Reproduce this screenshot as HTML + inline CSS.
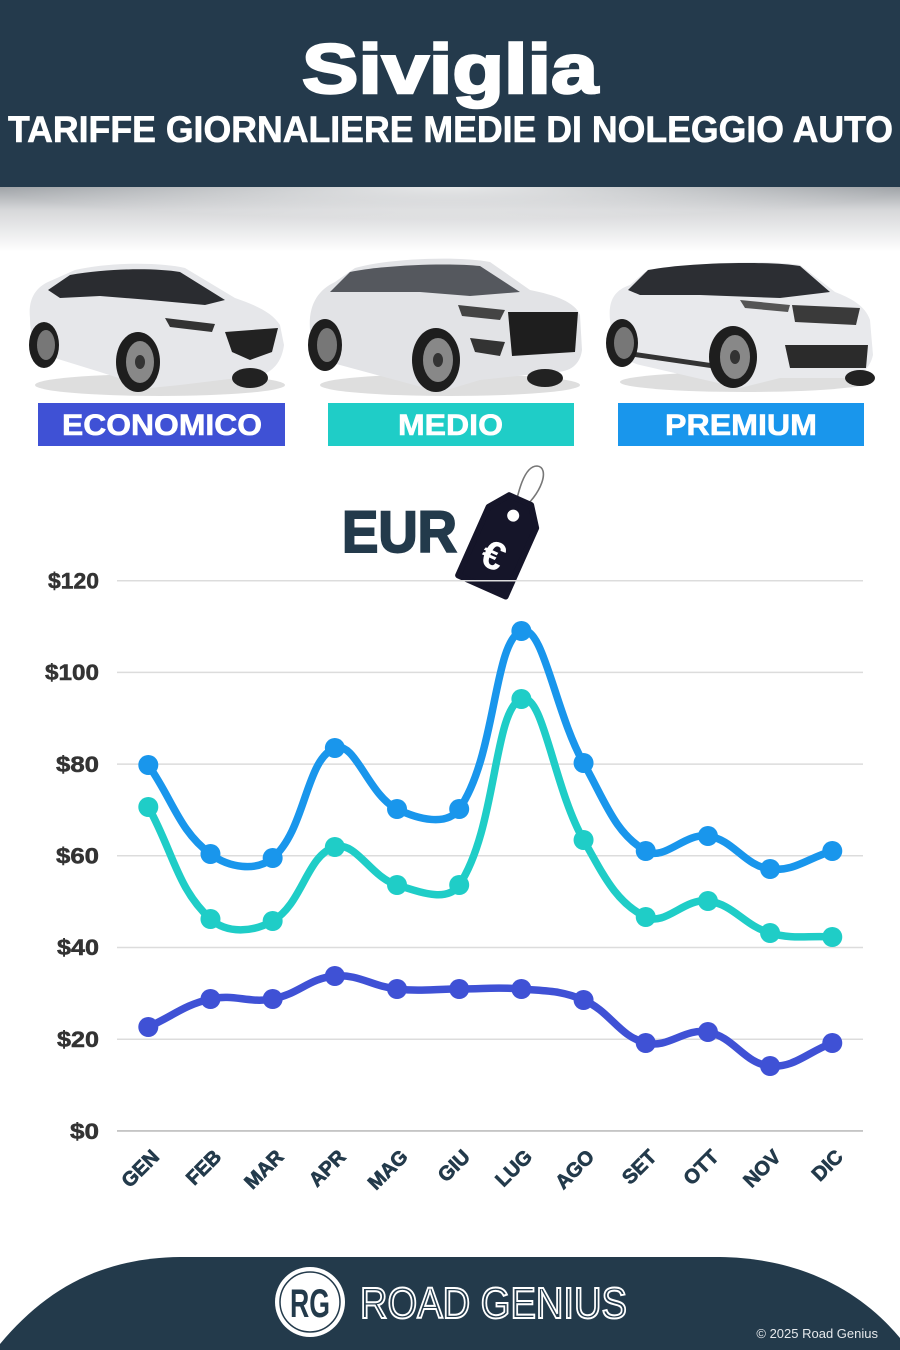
<!DOCTYPE html>
<html>
<head>
<meta charset="utf-8">
<style>
html,body{margin:0;padding:0;background:#fff;}
body{width:900px;height:1350px;overflow:hidden;}
svg{display:block;}
text{font-family:"Liberation Sans",Arial,sans-serif;}
</style>
</head>
<body>
<svg id="s" width="900" height="1350" viewBox="0 0 900 1350" xmlns="http://www.w3.org/2000/svg">
<defs>
<linearGradient id="shd" x1="0" y1="0" x2="0" y2="1">
<stop offset="0" stop-color="#9fa3a7"/>
<stop offset="0.35" stop-color="#d6d7d9"/>
<stop offset="1" stop-color="#ffffff"/>
</linearGradient>
<radialGradient id="shc" cx="0.5" cy="0" r="0.5" fx="0.5" fy="0">
<stop offset="0" stop-color="#fff" stop-opacity="0.75"/>
<stop offset="1" stop-color="#fff" stop-opacity="0"/>
</radialGradient>
</defs>
<rect x="0" y="0" width="900" height="1350" fill="#fff"/>
<!-- header -->
<rect x="0" y="187" width="900" height="65" fill="url(#shd)"/>
<rect x="0" y="187" width="900" height="65" fill="url(#shc)"/>
<rect x="0" y="0" width="900" height="187" fill="#243a4c"/>
<text x="302" y="93" font-size="70" font-weight="bold" fill="#fff" stroke="#fff" stroke-width="2.5" textLength="296" lengthAdjust="spacingAndGlyphs">Siviglia</text>
<text x="8" y="142" font-size="37" font-weight="bold" fill="#fff" stroke="#fff" stroke-width="0.6" textLength="885" lengthAdjust="spacingAndGlyphs">TARIFFE GIORNALIERE MEDIE DI NOLEGGIO AUTO</text>

<!-- car 1 -->
<g>
<ellipse cx="160" cy="385" rx="125" ry="11" fill="#bdbdbd" opacity="0.5"/>
<path d="M30,318 C28,300 35,288 48,282 L75,270 C110,262 160,262 185,268 L235,298 C255,305 272,312 280,325 L284,345 C282,360 275,370 262,375 L180,385 L150,388 L100,372 L45,355 C35,350 30,335 30,318 Z" fill="#e6e7ea"/>
<path d="M48,290 L70,275 C110,268 155,268 180,272 L225,300 L205,305 L150,300 L100,296 L60,298 Z" fill="#2a2c30"/>
<path d="M225,332 L278,328 L272,352 L250,360 L232,352 Z" fill="#222"/>
<path d="M165,318 L215,324 L212,332 L170,327 Z" fill="#333"/>
<ellipse cx="250" cy="378" rx="18" ry="10" fill="#222"/>
<ellipse cx="44" cy="345" rx="15" ry="23" fill="#1e1e1e"/>
<ellipse cx="46" cy="345" rx="9" ry="15" fill="#777"/>
<ellipse cx="138" cy="362" rx="22" ry="30" fill="#1e1e1e"/>
<ellipse cx="140" cy="362" rx="14" ry="21" fill="#888"/>
<ellipse cx="140" cy="362" rx="5" ry="7" fill="#333"/>
</g>
<!-- car 2 -->
<g>
<ellipse cx="450" cy="385" rx="130" ry="11" fill="#bdbdbd" opacity="0.5"/>
<path d="M310,330 C308,305 318,290 335,282 L355,268 C390,258 460,256 490,262 L530,290 C555,295 575,302 580,315 L582,350 C580,365 570,372 555,372 L480,380 L440,392 L340,365 C320,360 312,348 310,330 Z" fill="#e2e3e6"/>
<path d="M330,292 L350,272 C390,264 455,263 480,266 L520,292 L470,296 L420,292 L360,292 Z" fill="#55585e"/>
<path d="M508,312 L578,312 L575,352 L512,356 Z" fill="#1e1e1e"/>
<path d="M458,305 L505,310 L500,320 L462,316 Z" fill="#444"/>
<path d="M470,338 L505,342 L500,356 L475,352 Z" fill="#333"/>
<ellipse cx="545" cy="378" rx="18" ry="9" fill="#222"/>
<ellipse cx="325" cy="345" rx="17" ry="26" fill="#1e1e1e"/>
<ellipse cx="327" cy="345" rx="10" ry="17" fill="#777"/>
<ellipse cx="436" cy="360" rx="24" ry="32" fill="#1e1e1e"/>
<ellipse cx="438" cy="360" rx="15" ry="22" fill="#888"/>
<ellipse cx="438" cy="360" rx="5" ry="7" fill="#333"/>
</g>
<!-- car 3 -->
<g>
<ellipse cx="745" cy="382" rx="125" ry="10" fill="#bdbdbd" opacity="0.5"/>
<path d="M610,320 C608,300 615,290 630,285 L645,272 C690,262 770,260 800,265 L835,292 C850,298 865,305 870,320 L873,355 C870,368 862,375 850,378 L780,378 L740,388 L640,365 C620,360 612,345 610,320 Z" fill="#e8e9ec"/>
<path d="M628,290 L648,270 C690,262 770,261 800,266 L830,292 L780,298 L700,295 L640,295 Z" fill="#2c2e33"/>
<path d="M635,352 L745,368 L745,373 L635,357 Z" fill="#333"/>
<path d="M792,305 L860,308 L856,325 L795,322 Z" fill="#3a3a3a"/>
<path d="M740,300 L790,305 L788,312 L745,308 Z" fill="#555"/>
<path d="M785,345 L868,345 L866,368 L790,368 Z" fill="#2b2b2b"/>
<ellipse cx="860" cy="378" rx="15" ry="8" fill="#222"/>
<ellipse cx="622" cy="343" rx="16" ry="24" fill="#1e1e1e"/>
<ellipse cx="624" cy="343" rx="10" ry="16" fill="#777"/>
<ellipse cx="733" cy="357" rx="24" ry="31" fill="#1e1e1e"/>
<ellipse cx="735" cy="357" rx="15" ry="22" fill="#888"/>
<ellipse cx="735" cy="357" rx="5" ry="7" fill="#333"/>
</g>

<!-- category labels -->
<rect x="38" y="403" width="247" height="43" fill="#3f51d5"/>
<text x="62" y="435" font-size="30" font-weight="bold" fill="#fff" stroke="#fff" stroke-width="0.6" textLength="200" lengthAdjust="spacingAndGlyphs">ECONOMICO</text>
<rect x="328" y="403" width="246" height="43" fill="#1fcdc7"/>
<text x="398" y="435" font-size="30" font-weight="bold" fill="#fff" stroke="#fff" stroke-width="0.6" textLength="105" lengthAdjust="spacingAndGlyphs">MEDIO</text>
<rect x="618" y="403" width="246" height="43" fill="#1996ec"/>
<text x="665" y="435" font-size="30" font-weight="bold" fill="#fff" stroke="#fff" stroke-width="0.6" textLength="152" lengthAdjust="spacingAndGlyphs">PREMIUM</text>

<!-- EUR + tag -->
<text x="342" y="552" font-size="58" font-weight="bold" fill="#233a4b" stroke="#233a4b" stroke-width="2" textLength="115" lengthAdjust="spacingAndGlyphs">EUR</text>
<path d="M513,516 C518,492 524,466 537,466 C550,467 543,494 518,513" fill="none" stroke="#777" stroke-width="1.6"/>
<g transform="translate(501,543) rotate(24)">
<path d="M-26,-28 L-12,-47 L12,-47 L26,-28 L26,47 L-26,47 Z" fill="#151529" stroke="#151529" stroke-width="6" stroke-linejoin="round"/>
<circle cx="0" cy="-30" r="6" fill="#fff"/>
<text x="-2" y="28" font-size="40" font-weight="bold" fill="#fff" text-anchor="middle">€</text>
</g>

<!-- grid -->
<g stroke="#dcdcdc" stroke-width="1.5">
<line x1="117" y1="580.7" x2="863" y2="580.7"/>
<line x1="117" y1="672.4" x2="863" y2="672.4"/>
<line x1="117" y1="764.1" x2="863" y2="764.1"/>
<line x1="117" y1="855.8" x2="863" y2="855.8"/>
<line x1="117" y1="947.5" x2="863" y2="947.5"/>
<line x1="117" y1="1039.2" x2="863" y2="1039.2"/>
</g>
<line x1="117" y1="1130.9" x2="863" y2="1130.9" stroke="#bdbdbd" stroke-width="1.6"/>
<g font-size="22" font-weight="bold" fill="#333" stroke="#333" stroke-width="0.5" text-anchor="end">
<text x="99" y="588.5" textLength="51" lengthAdjust="spacingAndGlyphs">$120</text>
<text x="99" y="680" textLength="54" lengthAdjust="spacingAndGlyphs">$100</text>
<text x="99" y="772" textLength="43" lengthAdjust="spacingAndGlyphs">$80</text>
<text x="99" y="863.5" textLength="43" lengthAdjust="spacingAndGlyphs">$60</text>
<text x="99" y="955" textLength="42" lengthAdjust="spacingAndGlyphs">$40</text>
<text x="99" y="1047" textLength="42" lengthAdjust="spacingAndGlyphs">$20</text>
<text x="99" y="1139" textLength="29" lengthAdjust="spacingAndGlyphs">$0</text>
</g>
<g id="xl" font-size="20" font-weight="bold" fill="#233a4b" stroke="#233a4b" stroke-width="0.7" text-anchor="end"></g>
<g id="series"></g>

<!-- footer -->
<path d="M0,1350 L0,1344 C45,1290 100,1258 180,1257 L720,1257 C800,1258 860,1290 900,1338 L900,1350 Z" fill="#233a4b"/>
<circle cx="310" cy="1302" r="35" fill="#fff"/>
<circle cx="310" cy="1302" r="30" fill="none" stroke="#233a4b" stroke-width="1.5"/>
<text x="310" y="1317" font-size="40" font-weight="bold" fill="#233a4b" text-anchor="middle" textLength="40" lengthAdjust="spacingAndGlyphs">RG</text>
<text x="360" y="1318" font-size="44" fill="none" stroke="#fff" stroke-width="2" textLength="267" lengthAdjust="spacingAndGlyphs">ROAD GENIUS</text>
<text x="878" y="1338" font-size="13" fill="#e6e9ec" text-anchor="end">© 2025 Road Genius</text>
</svg>
<script>
(function(){
var NS="http://www.w3.org/2000/svg";
function X(i){return 148.3+i*62.18;}
var months=["GEN","FEB","MAR","APR","MAG","GIU","LUG","AGO","SET","OTT","NOV","DIC"];
var xl=document.getElementById("xl");
months.forEach(function(m,i){
 var t=document.createElementNS(NS,"text");
 var x=X(i)+12,y=1158;
 t.setAttribute("x",x);t.setAttribute("y",y);
 t.setAttribute("transform","rotate(-45 "+x+" "+y+")");
 t.textContent=m;xl.appendChild(t);
});
var series=[
 {c:"#3f51d5",y:[1027,999,999,976,989,989,989,1000,1043,1032,1066,1043]},
 {c:"#1fcdc7",y:[807,919,921,847,885,885,699,840,917,901,933,937]},
 {c:"#1996ec",y:[765,854,858,748,809,809,631,763,851,836,869,851]}
];
var g=document.getElementById("series");
var t=0.4;
series.forEach(function(s){
 var pts=s.y.map(function(y,i){return {x:X(i),y:y};});
 var cps=pts.map(function(p,i){
  var prev=pts[i-1]||p,next=pts[i+1]||p;
  var d01=Math.hypot(p.x-prev.x,p.y-prev.y),d12=Math.hypot(next.x-p.x,next.y-p.y);
  var sum=d01+d12,s01=sum?d01/sum:0,s12=sum?d12/sum:0;
  var fa=t*s01,fb=t*s12;
  return {px:p.x-fa*(next.x-prev.x),py:p.y-fa*(next.y-prev.y),nx:p.x+fb*(next.x-prev.x),ny:p.y+fb*(next.y-prev.y)};
 });
 var d="M"+pts[0].x+","+pts[0].y;
 for(var i=1;i<pts.length;i++){
  d+=" C"+cps[i-1].nx+","+cps[i-1].ny+" "+cps[i].px+","+cps[i].py+" "+pts[i].x+","+pts[i].y;
 }
 var p=document.createElementNS(NS,"path");
 p.setAttribute("d",d);p.setAttribute("fill","none");p.setAttribute("stroke",s.c);
 p.setAttribute("stroke-width","7.5");p.setAttribute("stroke-linejoin","round");p.setAttribute("stroke-linecap","round");
 g.appendChild(p);
 pts.forEach(function(q){
  var c=document.createElementNS(NS,"circle");
  c.setAttribute("cx",q.x);c.setAttribute("cy",q.y);c.setAttribute("r","10");c.setAttribute("fill",s.c);
  g.appendChild(c);
 });
});
})();
</script>
</body>
</html>
